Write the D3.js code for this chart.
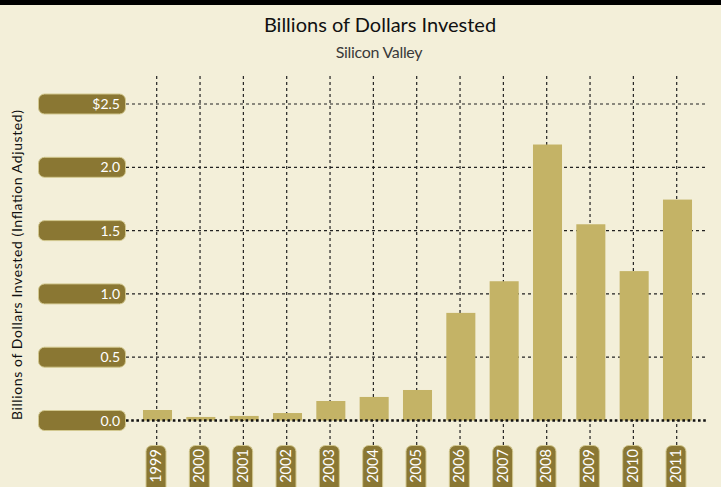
<!DOCTYPE html>
<html><head><meta charset="utf-8">
<script src="https://cdn.jsdelivr.net/npm/d3@7/dist/d3.min.js"></script>
<style>
html,body{margin:0;padding:0;background:#f3efd9;}
text{font-family:Lato,"Open Sans",sans-serif;}
</style></head>
<body><svg id="chart" width="721" height="487"></svg>
<script>
const years = ["1999","2000","2001","2002","2003","2004","2005","2006","2007","2008","2009","2010","2011"];
const invested = [0.083,0.028,0.036,0.059,0.154,0.186,0.241,0.85,1.10,2.18,1.55,1.18,1.745];
const yTicks = [0,0.5,1.0,1.5,2.0,2.5];
const yTickLabels = ["0.0","0.5","1.0","1.5","2.0","$2.5"];
const title = "Billions of Dollars Invested";
const subtitle = "Silicon Valley";
const yTitle = "Billions of Dollars Invested (Inflation Adjusted)";

const svg = d3.select("#chart");
const W = 721, H = 487;
svg.append("rect").attr("width",W).attr("height",H).attr("fill","#f3efd9");
svg.append("rect").attr("x",0).attr("y",0).attr("width",W).attr("height",5).attr("fill","#000");

const x = d3.scalePoint().domain(years).range([157.5,677.5]);
const y = d3.scaleLinear().domain([0,2.5]).range([420.5,104]);
const barW = x.step()*0.67;
const gridLeft = 126, gridRight = 706;

// vertical gridlines
svg.append("g").selectAll("line").data(years).join("line")
  .attr("x1",d=>x(d)-0.8).attr("x2",d=>x(d)-0.8).attr("y1",76).attr("y2",445)
  .attr("stroke","#222").attr("stroke-width",1.2).attr("stroke-dasharray","3,3");
// horizontal gridlines
svg.append("g").selectAll("line").data(yTicks.filter(t=>t>0)).join("line")
  .attr("x1",gridLeft).attr("x2",gridRight).attr("y1",d=>y(d)).attr("y2",d=>y(d))
  .attr("stroke","#222").attr("stroke-width",1.2).attr("stroke-dasharray","3,3");

// bars
svg.append("g").selectAll("rect").data(invested).join("rect")
  .attr("x",(d,i)=>x(years[i])-barW/2).attr("width",barW)
  .attr("y",d=>y(d)).attr("height",d=>y(0)-y(d)).attr("fill","#c4b366");

// zero line
svg.append("line").attr("x1",gridLeft).attr("x2",gridRight).attr("y1",y(0)).attr("y2",y(0))
  .attr("stroke","#111").attr("stroke-width",2.6).attr("stroke-dasharray","2.6,2.6");

// y tick pills
const yg = svg.append("g").selectAll("g").data(yTicks).join("g")
  .attr("transform",d=>`translate(0,${y(d)})`);
yg.append("rect").attr("x",38.5).attr("y",-10).attr("width",87).attr("height",20).attr("rx",6)
  .attr("fill","#8a7733").attr("stroke","#d2c88f").attr("stroke-width",1);
yg.append("text").attr("x",120).attr("y",5).attr("text-anchor","end")
  .attr("fill","#fff").attr("font-size",14).text((d,i)=>yTickLabels[i]);

// x tick pills
const xg = svg.append("g").selectAll("g").data(years).join("g")
  .attr("transform",d=>`translate(${x(d)-1.5},0)`);
xg.append("rect").attr("x",-10).attr("y",445.5).attr("width",20).attr("height",56).attr("rx",6)
  .attr("fill","#8a7733").attr("stroke","#d2c88f").attr("stroke-width",1);
xg.append("text").attr("transform","translate(5,466) rotate(-90)").attr("text-anchor","middle")
  .attr("fill","#fff").attr("font-size",14.5).text(d=>d);

// titles
svg.append("text").attr("x",380).attr("y",32).attr("text-anchor","middle")
  .attr("font-size",20).attr("fill","#111").text(title);
svg.append("text").attr("x",379).attr("y",58).attr("text-anchor","middle")
  .attr("font-size",16).attr("fill","#3a3a3a").attr("letter-spacing","-0.3").text(subtitle);
svg.append("text").attr("transform","translate(22,265) rotate(-90)").attr("text-anchor","middle")
  .attr("font-size",14).attr("textLength",310).attr("lengthAdjust","spacing")
  .attr("fill","#111").text(yTitle);
</script></body></html>
